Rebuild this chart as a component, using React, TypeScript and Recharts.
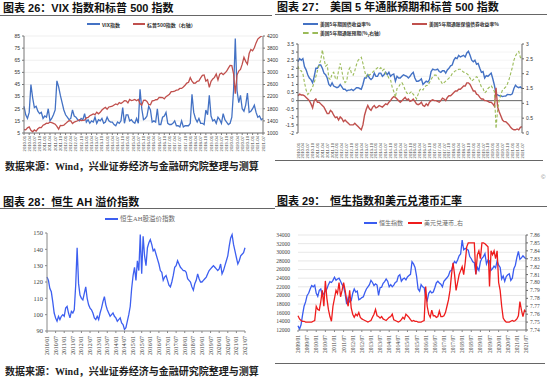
import React from "react";
import { LineChart, Line, XAxis, YAxis, CartesianGrid, ReferenceLine } from "recharts";

// month labels for the category axes
function months(y0: number, m0: number, n: number, sep: string) {
  const out: string[] = [];
  let y = y0;
  let m = m0;
  for (let i = 0; i < n; i++) {
    out.push(`${y}${sep}${String(m).padStart(2, "0")}`);
    m++;
    if (m > 12) {
      m = 1;
      y++;
    }
  }
  return out;
}

// ---- 图表26: VIX / S&P500, 2010-01 .. 2021-07
const vix = [
  27, 20, 17, 22, 45, 34, 26, 27, 23, 21, 22, 17,
  19, 18, 25, 15, 17, 20, 24, 48, 43, 36, 30, 24,
  20, 18, 16, 17, 24, 19, 18, 16, 15, 17, 16, 21,
  14, 16, 13, 15, 14, 18, 13, 16, 15, 17, 13, 14,
  18, 15, 14, 14, 12, 11, 14, 13, 15, 26, 13, 20,
  20, 15, 16, 14, 13, 17, 13, 41, 25, 16, 17, 19,
  27, 24, 14, 15, 14, 25, 12, 12, 18, 19, 22, 13,
  12, 12, 13, 15, 11, 11, 10, 15, 10, 11, 11, 11,
  13, 37, 22, 17, 14, 17, 13, 13, 12, 24, 20, 36,
  19, 15, 16, 13, 18, 16, 13, 21, 16, 14, 12, 13,
  18, 40, 83, 40, 30, 36, 25, 23, 28, 38, 22, 23,
  25, 28, 22, 18, 19, 16, 17,
];
const spx = [
  1115, 1105, 1170, 1200, 1090, 1040, 1100, 1060, 1140, 1185, 1180, 1258,
  1285, 1325, 1320, 1360, 1345, 1320, 1290, 1220, 1130, 1250, 1245, 1258,
  1310, 1365, 1408, 1398, 1310, 1362, 1380, 1405, 1440, 1412, 1416, 1426,
  1498, 1515, 1570, 1597, 1630, 1606, 1686, 1633, 1682, 1757, 1806, 1848,
  1783, 1859, 1872, 1884, 1924, 1960, 1931, 2003, 1972, 2018, 2068, 2059,
  1995, 2105, 2068, 2086, 2107, 2063, 2104, 1972, 1920, 2079, 2080, 2044,
  1940, 1932, 2060, 2065, 2097, 2099, 2174, 2171, 2168, 2126, 2199, 2239,
  2279, 2364, 2363, 2384, 2412, 2423, 2470, 2472, 2519, 2575, 2648, 2674,
  2824, 2714, 2641, 2648, 2705, 2718, 2816, 2902, 2914, 2712, 2760, 2507,
  2704, 2784, 2834, 2946, 2752, 2942, 2980, 2926, 2977, 3038, 3141, 3231,
  3226, 2954, 2300, 2912, 3044, 3100, 3271, 3500, 3363, 3270, 3622, 3756,
  3714, 3811, 3973, 4100, 4150, 4190, 4230,
];
const d26 = months(2010, 1, vix.length, "-");

// ---- 图表27: 5Y treasury / TIPS / breakeven, 2010-01 .. 2021-07
const ust5 = [
  2.4, 2.6, 2.5, 2.6, 2.1, 1.9, 1.6, 1.4, 1.3, 1.1, 1.5, 2.0,
  2.0, 2.2, 2.2, 2.0, 1.7, 1.6, 1.4, 1.0, 0.9, 1.1, 0.9, 0.85,
  0.8, 0.85, 1.0, 0.85, 0.7, 0.7, 0.6, 0.65, 0.65, 0.7, 0.62, 0.7,
  0.8, 0.8, 0.75, 0.7, 1.0, 1.4, 1.4, 1.6, 1.4, 1.3, 1.4, 1.7,
  1.5, 1.5, 1.7, 1.7, 1.5, 1.6, 1.75, 1.6, 1.75, 1.5, 1.6, 1.65,
  1.2, 1.5, 1.4, 1.4, 1.5, 1.6, 1.55, 1.5, 1.4, 1.5, 1.65, 1.75,
  1.4, 1.2, 1.2, 1.25, 1.35, 1.0, 1.1, 1.2, 1.15, 1.3, 1.8, 1.95,
  1.9, 1.9, 1.95, 1.8, 1.75, 1.85, 1.85, 1.7, 1.9, 2.0, 2.15, 2.2,
  2.5, 2.65, 2.6, 2.8, 2.7, 2.75, 2.8, 2.7, 2.95, 3.05, 2.8, 2.5,
  2.4, 2.5, 2.25, 2.3, 2.0, 1.75, 1.8, 1.4, 1.55, 1.5, 1.6, 1.7,
  1.35, 0.95, 0.4, 0.35, 0.3, 0.3, 0.25, 0.28, 0.28, 0.38, 0.37, 0.36,
  0.42, 0.75, 0.95, 0.85, 0.8, 0.85, 0.75,
];
const tips5 = [
  0.3, 0.4, 0.35, 0.35, 0.3, 0.2, 0.1, 0.0, -0.2, -0.45, 0.0, 0.1,
  -0.1, -0.1, -0.2, -0.3, -0.4, -0.6, -0.8, -0.8, -0.6, -0.7, -0.9, -1.05,
  -1.0, -1.2, -1.0, -1.1, -1.3, -1.2, -1.3, -1.4, -1.5, -1.5, -1.5, -1.4,
  -1.5, -1.6, -1.7, -1.8, -1.5, -0.9, -0.55, -0.3, -0.5, -0.6, -0.4, -0.3,
  -0.45, -0.4, -0.3, -0.35, -0.4, -0.3, -0.2, -0.25, -0.1, 0.0, 0.15, 0.25,
  0.2, 0.1, 0.0, -0.1, 0.0, 0.1, 0.2, 0.05, 0.1, -0.05, 0.0, 0.1,
  -0.05, -0.2, -0.25, -0.2, -0.1, -0.3, -0.35, -0.2, -0.3, -0.1, 0.0, 0.05,
  0.0, 0.0, -0.05, -0.1, 0.0, 0.15, 0.1, 0.0, 0.2, 0.3, 0.3, 0.4,
  0.5, 0.6, 0.6, 0.7, 0.7, 0.8, 0.9, 0.9, 1.1, 1.1, 1.0, 0.8,
  0.6, 0.6, 0.4, 0.35, 0.2, 0.1, 0.1, 0.0, 0.0, -0.05, -0.1, -0.1,
  -0.2, -0.35, 0.8, -0.4, -0.7, -0.95, -1.2, -1.3, -1.3, -1.4, -1.5, -1.65,
  -1.75, -1.8, -1.8, -1.75, -1.8, -1.65, -1.6,
];
const bei5 = [
  2.25, 2.1, 2.1, 2.0, 1.7, 1.45, 1.3, 1.35, 1.45, 1.55, 1.7, 1.9,
  2.1, 2.3, 2.45, 2.8, 2.5, 2.25, 2.3, 1.85, 1.8, 2.0, 2.05, 1.85,
  1.8, 2.1, 2.35, 2.1, 1.8, 1.7, 1.75, 2.1, 2.2, 2.0, 1.95, 2.1,
  2.3, 2.45, 2.5, 2.55, 2.35, 2.1, 1.9, 2.0, 1.95, 2.0, 2.05, 2.1,
  2.15, 2.2, 2.15, 2.2, 2.1, 2.15, 2.0, 1.95, 1.85, 1.8, 1.55, 1.4,
  1.2, 1.5, 1.55, 1.65, 1.7, 1.6, 1.45, 1.35, 1.3, 1.35, 1.4, 1.3,
  1.24, 1.15, 1.3, 1.45, 1.5, 1.45, 1.55, 1.6, 1.6, 1.7, 1.8, 1.9,
  1.95, 1.95, 1.9, 1.8, 1.75, 1.65, 1.7, 1.75, 1.8, 1.85, 1.9, 2.0,
  2.05, 2.1, 2.1, 2.15, 2.15, 2.1, 2.05, 2.05, 2.0, 1.95, 1.85, 1.75,
  1.8, 1.85, 1.9, 1.85, 1.7, 1.55, 1.5, 1.35, 1.4, 1.5, 1.55, 1.6,
  1.5, 1.4, 0.15, 0.8, 1.1, 1.3, 1.45, 1.5, 1.55, 1.65, 1.8, 2.0,
  2.2, 2.45, 2.6, 2.7, 2.75, 2.55, 2.5,
];
const d27 = months(2010, 1, ust5.length, "-");

// ---- 图表28: 恒生AH股溢价指数, 2010/01 .. 2021/07
const ahPremium = [
  123, 121, 116, 114, 108, 101, 98, 96, 99, 97, 99, 100,
  99, 104, 105, 101, 98, 102, 101, 103, 118, 141, 119, 112,
  110, 109, 113, 117, 110, 106, 104, 103, 101, 98, 97, 99,
  97, 101, 104, 108, 111, 106, 103, 101, 99, 100, 101, 99,
  98, 96, 97, 98, 95, 94, 91, 92, 96, 100, 105, 116,
  124, 129, 121, 133, 127, 149, 125, 148, 136, 130, 141, 144,
  146, 143, 139, 140, 137, 134, 131, 127, 126, 121, 123, 124,
  121, 118, 117, 120, 124, 129, 130, 133, 131, 129, 128, 127,
  127, 126, 122, 121, 120, 117, 115, 119, 121, 125, 122, 120,
  120, 121, 122, 123, 125, 127, 128, 129, 130, 129, 128, 127,
  128, 131, 125, 127, 130, 133, 136, 142, 147, 149, 143, 139,
  135, 131, 133, 136, 137, 138, 141,
];
const d28 = months(2010, 1, ahPremium.length, "/");

// ---- 图表29: 恒生指数 / 美元兑港币, 2009/01 .. 2021/07
const hsi = [
  13000, 12200, 13200, 15500, 17500, 18500, 20000, 20500, 21500, 22300, 22000, 22400,
  20500, 19800, 21200, 21500, 20000, 20500, 21000, 21500, 22500, 23200, 23000, 23500,
  24200, 23500, 23800, 24000, 23300, 22500, 22000, 20500, 18000, 19500, 18500, 18800,
  20500, 21500, 20800, 21000, 19000, 19200, 19500, 19700, 20700, 21500, 22000, 22500,
  23500, 23000, 22300, 22700, 22400, 20000, 21800, 21900, 22800, 23200, 23800, 23300,
  22000, 22500, 22000, 22400, 23000, 23200, 24500, 24800, 23300, 23800, 24000, 23600,
  24300, 24600, 24900, 27800, 27300, 26500, 24500, 21500, 21000, 22500, 22000, 21800,
  19500, 18800, 20500, 21000, 20600, 20800, 21800, 22900, 23300, 22900, 22600, 22000,
  23300, 23700, 24100, 24600, 25600, 25800, 27200, 27900, 27500, 28200, 29200, 29600,
  32800, 30600, 30900, 30700, 30500, 29000, 28500, 27800, 27600, 25000, 26500, 25800,
  27800, 28600, 29000, 29700, 27300, 28200, 28000, 25800, 26200, 26800, 26400, 28000,
  27000, 26500, 23800, 24500, 23300, 24400, 24800, 25000, 23500, 24000, 26200, 27000,
  28800, 30200, 28400, 28700, 29200, 28800, 28500,
];
const usdhkd = [
  7.758, 7.754, 7.752, 7.751, 7.751, 7.75, 7.75, 7.75, 7.75, 7.75, 7.751, 7.752,
  7.77, 7.766, 7.765, 7.776, 7.79, 7.77, 7.802, 7.78, 7.766, 7.757, 7.751, 7.77,
  7.78, 7.79, 7.786, 7.8, 7.782, 7.79, 7.8, 7.79, 7.778, 7.77, 7.79, 7.768,
  7.76, 7.756, 7.76, 7.758, 7.762, 7.756, 7.754, 7.753, 7.752, 7.751, 7.75, 7.751,
  7.752, 7.756, 7.76, 7.766, 7.758, 7.757, 7.755, 7.757, 7.754, 7.753, 7.752, 7.754,
  7.756, 7.757, 7.76, 7.753, 7.752, 7.751, 7.75, 7.751, 7.753, 7.756, 7.754, 7.76,
  7.758, 7.756, 7.753, 7.751, 7.752, 7.751, 7.751, 7.75, 7.75, 7.75, 7.751, 7.752,
  7.795, 7.77, 7.76, 7.756, 7.765, 7.758, 7.758, 7.756, 7.757, 7.764, 7.757, 7.757,
  7.758, 7.762, 7.77, 7.778, 7.79, 7.81, 7.825, 7.81, 7.79, 7.8, 7.81, 7.815,
  7.82, 7.81, 7.825, 7.845, 7.85, 7.85, 7.85, 7.85, 7.85, 7.81, 7.835, 7.84,
  7.83, 7.85, 7.85, 7.849, 7.847, 7.845, 7.795, 7.84, 7.835, 7.84, 7.83, 7.84,
  7.8, 7.79, 7.77, 7.755, 7.752, 7.75, 7.75, 7.75, 7.751, 7.752, 7.751, 7.752,
  7.754, 7.758, 7.776, 7.765, 7.757, 7.765, 7.763,
];
const d29 = months(2009, 1, hsi.length, "/");

const ticks26L = [5, 15, 25, 35, 45, 55, 65, 75, 85];
const ticks26R = [1000, 1400, 1800, 2200, 2600, 3000, 3400, 3800, 4200];
const ticks27L = [-2, -1.5, -1, -0.5, 0, 0.5, 1, 1.5, 2, 2.5, 3, 3.5];
const ticks27R = [0, 0.5, 1, 1.5, 2, 2.5, 3];
const ticks28 = [90, 100, 110, 120, 130, 140, 150];
const ticks29L = [12000, 14000, 16000, 18000, 20000, 22000, 24000, 26000, 28000, 30000, 32000, 34000];
const ticks29R = [7.74, 7.75, 7.76, 7.77, 7.78, 7.79, 7.8, 7.81, 7.82, 7.83, 7.84, 7.85, 7.86];

const data26 = d26.map((d, i) => ({ d, vix: vix[i], spx: spx[i] }));
const data27 = d27.map((d, i) => ({ d, ust: ust5[i], tips: tips5[i], bei: bei5[i] }));
const data28 = d28.map((d, i) => ({ d, ah: ahPremium[i] }));
const data29 = d29.map((d, i) => ({ d, hsi: hsi[i], fx: usdhkd[i] }));

const CJK = "'Noto Sans CJK SC', sans-serif";
const SERIF = "'Liberation Serif', 'Noto Sans CJK SC', serif";
const SANS = "'Liberation Sans', 'Noto Sans CJK SC', sans-serif";
const SOURCE = "数据来源：Wind，兴业证券经济与金融研究院整理与测算";

const RotTick = (props: any) => {
  const { x, y, payload, fs, fill, family, off } = props;
  const yy = y + (off ?? 0);
  return (
    <text
      x={x}
      y={yy}
      transform={`rotate(-90 ${x} ${yy})`}
      textAnchor="end"
      dominantBaseline="central"
      fontSize={fs}
      fill={fill}
      fontFamily={family}
    >
      {payload.value}
    </text>
  );
};

function Title({ left, top, parts }: { left: number; top: number; parts: [number, string][] }) {
  return (
    <>
      {parts.map(([dx, t], i) => (
        <div
          key={i}
          style={{
            position: "absolute",
            left: left + dx,
            top,
            fontFamily: SANS,
            fontWeight: 700,
            fontSize: 11,
            lineHeight: "14px",
            whiteSpace: "nowrap",
            color: "#111",
          }}
        >
          {t}
        </div>
      ))}
    </>
  );
}

function Rule({ top, left = 0, width }: { top: number; left?: number; width: number }) {
  return <div style={{ position: "absolute", top, left, width, height: 1, background: "#666" }} />;
}

function LegendItem(p: {
  x: number;
  y: number;
  w: number;
  color: string;
  dash?: boolean;
  label: string;
  fs: number;
  family: string;
  textColor: string;
  weight?: number;
}) {
  return (
    <>
      <div
        style={{
          position: "absolute",
          left: p.x,
          top: p.y - 1,
          width: p.w,
          height: 0,
          borderTop: `2px ${p.dash ? "dashed" : "solid"} ${p.color}`,
        }}
      />
      <div
        style={{
          position: "absolute",
          left: p.x + p.w + 2,
          top: p.y - p.fs * 0.7,
          fontSize: p.fs,
          lineHeight: `${p.fs * 1.4}px`,
          fontFamily: p.family,
          fontWeight: p.weight ?? 400,
          color: p.textColor,
          whiteSpace: "nowrap",
        }}
      >
        {p.label}
      </div>
    </>
  );
}

function Source({ top }: { top: number }) {
  return (
    <div
      style={{
        position: "absolute",
        left: 5,
        top,
        fontFamily: SERIF,
        fontSize: 10,
        fontWeight: 700,
        lineHeight: "12px",
        whiteSpace: "nowrap",
        color: "#222",
      }}
    >
      {SOURCE}
    </div>
  );
}

const panel = (left: number, top: number, h: number): React.CSSProperties => ({
  position: "absolute",
  left,
  top,
  width: 275,
  height: h,
});

export default function App() {
  return (
    <div style={{ position: "absolute", left: 0, top: 0, width: 550, height: 378, background: "#fff", overflow: "hidden" }}>
      <style>{"svg { overflow: visible; }"}</style>
      {/* 图表 26 */}
      <div style={panel(0, 0, 190)}>
        <Title left={3} top={1} parts={[[0, "图表 26：VIX 指数和标普 500 指数"]]} />
        <Rule top={15} width={272} />
        <LegendItem x={87} y={24} w={13} color="#4472C4" label="VIX指数" fs={5} family={CJK} textColor="#333" weight={700} />
        <LegendItem x={133} y={24} w={12} color="#C0504D" label="标普500指数（右轴）" fs={5} family={CJK} textColor="#333" weight={700} />
        <div style={{ position: "absolute", left: 0, top: 0 }}>
          <LineChart width={280} height={160} data={data26} margin={{ top: 36, right: 5, bottom: 5, left: 0 }}>
            <CartesianGrid yAxisId="l" vertical={false} stroke="#e4e4e4" strokeWidth={0.6} />
            <XAxis
              dataKey="d"
              interval={2}
              height={22}
              tickSize={2}
              axisLine={{ stroke: "#777" }}
              tickLine={{ stroke: "#777" }}
              tick={<RotTick fs={4.2} fill="#444" family={SANS} off={-1} />}
            />
            <YAxis
              yAxisId="l"
              width={24}
              domain={[5, 85]}
              ticks={ticks26L}
              interval={0}
              tickSize={2}
              axisLine={{ stroke: "#777" }}
              tickLine={{ stroke: "#777" }}
              tick={{ fontSize: 5, fill: "#333", fontFamily: SANS }}
            />
            <YAxis
              yAxisId="r"
              orientation="right"
              width={12}
              domain={[1000, 4200]}
              allowDataOverflow
              ticks={ticks26R}
              interval={0}
              tickSize={2}
              axisLine={{ stroke: "#777" }}
              tickLine={{ stroke: "#777" }}
              tick={{ fontSize: 5, fill: "#333", fontFamily: SANS }}
            />
            <Line yAxisId="l" dataKey="vix" stroke="#4472C4" strokeWidth={1.3} dot={false} isAnimationActive={false} />
            <Line yAxisId="r" dataKey="spx" stroke="#C0504D" strokeWidth={1.3} dot={false} isAnimationActive={false} />
          </LineChart>
        </div>
        <Source top={161} />
      </div>

      {/* 图表 27 */}
      <div style={panel(275, 0, 190)}>
        <Title left={2} top={0} parts={[[0, "图表 27："], [53, "美国 5 年通胀预期和标普 500 指数"]]} />
        <Rule top={14} width={272} />
        <LegendItem x={28} y={24} w={15} color="#4472C4" label="美国5年期国债收益率%" fs={4.8} family={CJK} textColor="#333" weight={700} />
        <LegendItem x={137} y={24} w={15} color="#C0504D" label="美国5年期通胀保值债券收益率%" fs={4.8} family={CJK} textColor="#333" weight={700} />
        <LegendItem x={28} y={33} w={15} color="#9BBB59" dash label="美国5年期通胀预期(%,右轴)" fs={4.8} family={CJK} textColor="#333" weight={700} />
        <div style={{ position: "absolute", left: 0, top: 0 }}>
          <LineChart width={275} height={160} data={data27} margin={{ top: 44, right: 0, bottom: 5, left: 0 }}>
            <CartesianGrid yAxisId="l" vertical={false} stroke="#ececec" strokeWidth={0.6} />
            <XAxis
              dataKey="d"
              interval={2}
              height={22}
              axisLine={false}
              tickLine={false}
              tick={<RotTick fs={4.2} fill="#444" family={SANS} off={2} />}
            />
            <YAxis
              yAxisId="l"
              width={23}
              domain={[-2, 3.5]}
              ticks={ticks27L}
              interval={0}
              tickSize={2}
              axisLine={{ stroke: "#666" }}
              tickLine={{ stroke: "#666" }}
              tick={{ fontSize: 5, fill: "#333", fontFamily: SANS }}
            />
            <YAxis
              yAxisId="r"
              orientation="right"
              width={28}
              domain={[0, 3]}
              ticks={ticks27R}
              interval={0}
              tickSize={2}
              axisLine={{ stroke: "#666" }}
              tickLine={{ stroke: "#666" }}
              tick={{ fontSize: 5, fill: "#333", fontFamily: SANS }}
            />
            <ReferenceLine yAxisId="l" y={0} stroke="#444" strokeWidth={0.8} />
            <Line yAxisId="l" dataKey="ust" stroke="#4472C4" strokeWidth={1.4} dot={false} isAnimationActive={false} />
            <Line yAxisId="l" dataKey="tips" stroke="#C0504D" strokeWidth={1.4} dot={false} isAnimationActive={false} />
            <Line yAxisId="r" dataKey="bei" stroke="#9BBB59" strokeWidth={1.1} strokeDasharray="3 2" dot={false} isAnimationActive={false} />
          </LineChart>
        </div>
        <Rule top={160} width={268} />
        <div style={{ position: "absolute", left: 266, top: 174, fontSize: 6, color: "#888", fontFamily: SANS }}>©</div>
      </div>

      {/* 图表 28 */}
      <div style={panel(0, 190, 188)}>
        <Title left={3} top={5} parts={[[0, "图表 28：恒生 AH 溢价指数"]]} />
        <Rule top={18} width={275} />
        <LegendItem x={105} y={29} w={13} color="#3D5FF0" label="恒生AH股溢价指数" fs={6.5} family={SERIF} textColor="#666" />
        <div style={{ position: "absolute", left: 0, top: 0 }}>
          <LineChart width={275} height={175} data={data28} margin={{ top: 43, right: 30, bottom: 0, left: 0 }}>
            <XAxis
              dataKey="d"
              interval={5}
              height={34}
              tickSize={2}
              axisLine={{ stroke: "#888" }}
              tickLine={{ stroke: "#888" }}
              tick={<RotTick fs={5.8} fill="#444" family={SERIF} off={1} />}
            />
            <YAxis
              width={47}
              domain={[90, 150]}
              ticks={ticks28}
              interval={0}
              tickSize={2}
              axisLine={{ stroke: "#888" }}
              tickLine={{ stroke: "#888" }}
              tick={{ fontSize: 6.5, fill: "#444", fontFamily: SERIF }}
            />
            <Line dataKey="ah" stroke="#3D5FF0" strokeWidth={1.3} dot={false} isAnimationActive={false} />
          </LineChart>
        </div>
        <Source top={176} />
      </div>

      {/* 图表 29 */}
      <div style={panel(275, 190, 188)}>
        <Title left={2} top={4} parts={[[0, "图表 29："], [53, "恒生指数和美元兑港币汇率"]]} />
        <Rule top={16} width={272} />
        <LegendItem x={89} y={33} w={13} color="#3A5CF0" label="恒生指数" fs={6} family={SERIF} textColor="#666" />
        <LegendItem x={133} y={33} w={14} color="#EE1C1C" label="美元兑港币_右" fs={6} family={SERIF} textColor="#666" />
        <div style={{ position: "absolute", left: 0, top: 0 }}>
          <LineChart width={275} height={172} data={data29} margin={{ top: 45, right: 0, bottom: 0, left: 0 }}>
            <CartesianGrid yAxisId="l" vertical={false} stroke="#dcdcdc" strokeWidth={0.7} />
            <XAxis
              dataKey="d"
              interval={5}
              height={32}
              tickSize={2}
              axisLine={{ stroke: "#888" }}
              tickLine={{ stroke: "#888" }}
              tick={<RotTick fs={5.5} fill="#444" family={SERIF} off={1} />}
            />
            <YAxis
              yAxisId="l"
              width={23}
              domain={[12000, 34000]}
              ticks={ticks29L}
              interval={0}
              axisLine={false}
              tickLine={false}
              tickMargin={2}
              tick={{ fontSize: 5.5, fill: "#444", fontFamily: SERIF }}
            />
            <YAxis
              yAxisId="r"
              orientation="right"
              width={24}
              domain={[7.74, 7.86]}
              ticks={ticks29R}
              interval={0}
              tickSize={2}
              axisLine={{ stroke: "#666" }}
              tickLine={{ stroke: "#666" }}
              tickFormatter={(v: number) => v.toFixed(2)}
              tick={{ fontSize: 5.5, fill: "#444", fontFamily: SERIF }}
            />
            <Line yAxisId="l" dataKey="hsi" stroke="#3A5CF0" strokeWidth={1.3} dot={false} isAnimationActive={false} />
            <Line yAxisId="r" dataKey="fx" stroke="#EE1C1C" strokeWidth={1.3} dot={false} isAnimationActive={false} />
          </LineChart>
        </div>
        <Rule top={173} width={270} />
      </div>
    </div>
  );
}
